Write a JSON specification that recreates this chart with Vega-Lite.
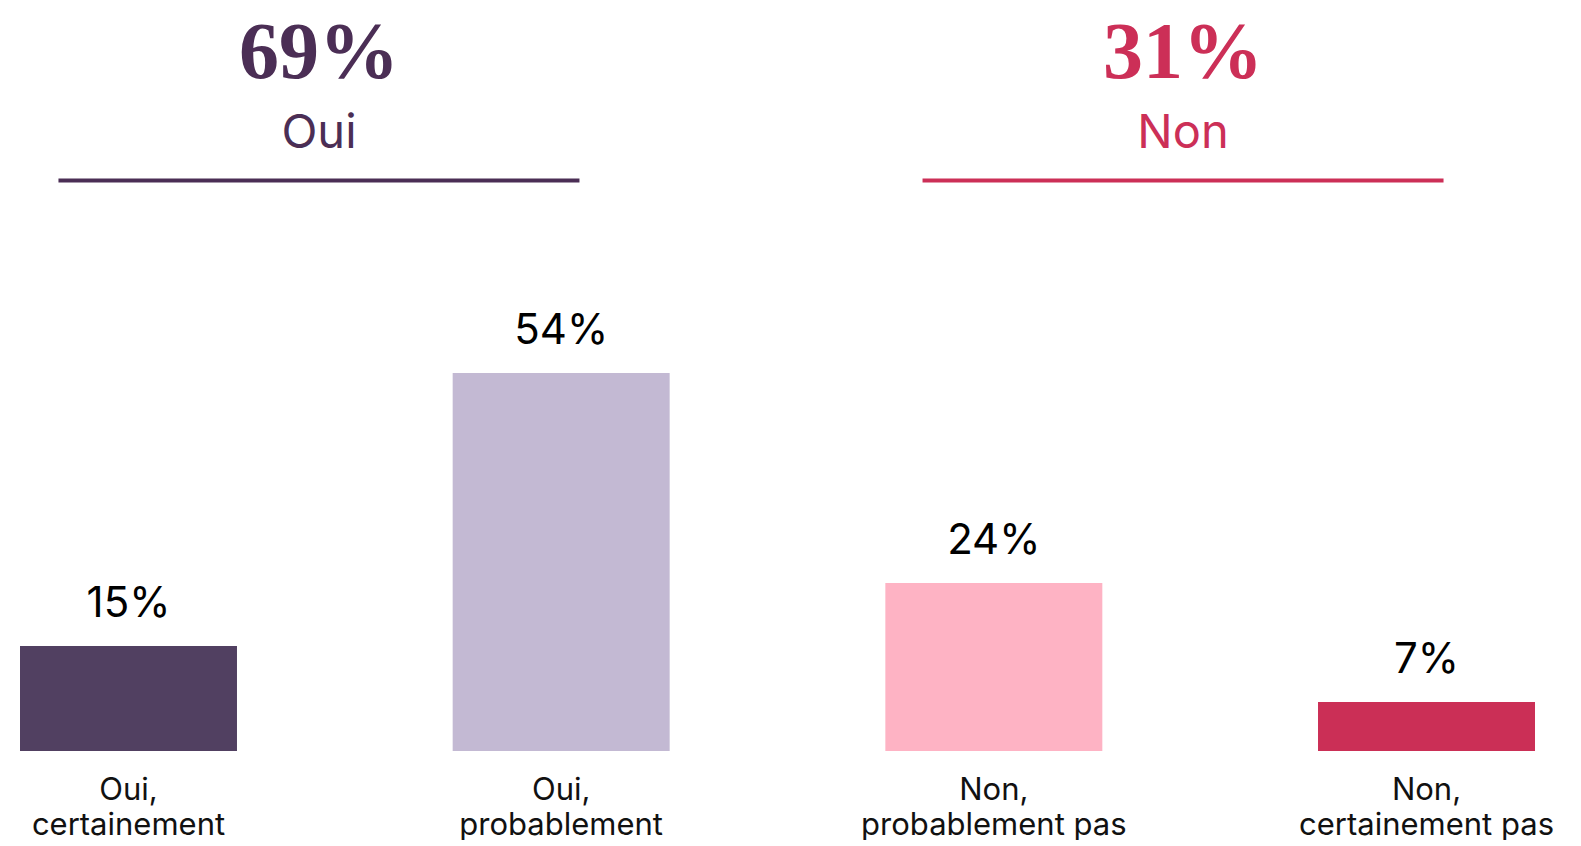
{
  "$schema": "https://vega.github.io/schema/vega-lite/v6.json",
  "background": "white",
  "padding": {"left": 20, "top": 0, "right": 0, "bottom": 0},
  "autosize": {"type": "pad"},
  "spacing": 0,
  "config": {"view": {"stroke": null}},
  "resolve": {"scale": {"x": "independent", "color": "independent"}},
  "vconcat": [
    {
      "width": 1462,
      "height": 191,
      "data": {"values": [
        {"group": "Oui", "total": "69%"},
        {"group": "Non", "total": "31%"}
      ]},
      "encoding": {
        "x": {"field": "group", "type": "nominal", "scale": {"type": "point", "padding": 0.346, "domain": ["Oui", "Non"]}, "axis": null},
        "color": {"field": "group", "type": "nominal", "scale": {"domain": ["Oui", "Non"], "range": ["#4B2E55", "#CC2F57"]}, "legend": null}
      },
      "layer": [
        {"mark": {"type": "text", "font": "Liberation Serif", "fontWeight": "bold", "fontSize": 80, "baseline": "alphabetic", "dy": -18}, "encoding": {"text": {"field": "total"}}},
        {"mark": {"type": "text", "font": "Inter", "fontSize": 47, "baseline": "alphabetic", "dy": 52}, "encoding": {"text": {"field": "group"}}},
        {"mark": {"type": "tick", "orient": "horizontal", "size": 521, "thickness": 4, "yOffset": 85, "opacity": 1}, "encoding": {}}
      ]
    },
    {
      "width": 1515,
      "height": 560,
      "data": {"values": [
        {"reponse": "Oui, certainement", "part": 0.15},
        {"reponse": "Oui, probablement", "part": 0.54},
        {"reponse": "Non, probablement pas", "part": 0.24},
        {"reponse": "Non, certainement pas", "part": 0.07}
      ]},
      "encoding": {
        "x": {
          "field": "reponse", "type": "nominal", "sort": null,
          "scale": {"paddingInner": 0.4985, "paddingOuter": 0},
          "axis": {
            "title": null, "domain": false, "ticks": false, "tickSize": 0, "grid": false,
            "labelAngle": 0, "labelFont": "Inter", "labelFontSize": 31, "labelColor": "#111111",
            "labelPadding": 24, "labelBaseline": "top", "labelLineHeight": 35,
            "labelExpr": "[split(datum.label, ', ')[0] + ',', split(datum.label, ', ')[1]]",
            "labelOverlap": false, "labelBound": false, "labelLimit": 0
          }
        },
        "y": {"field": "part", "type": "quantitative", "scale": {"domain": [0, 0.8]}, "axis": null}
      },
      "layer": [
        {
          "mark": {"type": "bar"},
          "encoding": {
            "color": {"field": "reponse", "type": "nominal", "scale": {"domain": ["Oui, certainement", "Oui, probablement", "Non, probablement pas", "Non, certainement pas"], "range": ["#514061", "#C3B9D3", "#FEB3C4", "#CB2F56"]}, "legend": null}
          }
        },
        {
          "mark": {"type": "text", "font": "Inter", "fontSize": 42, "color": "#000000", "baseline": "alphabetic", "dy": -29},
          "encoding": {"text": {"field": "part", "type": "quantitative", "format": ".0%"}}
        }
      ]
    }
  ]
}
